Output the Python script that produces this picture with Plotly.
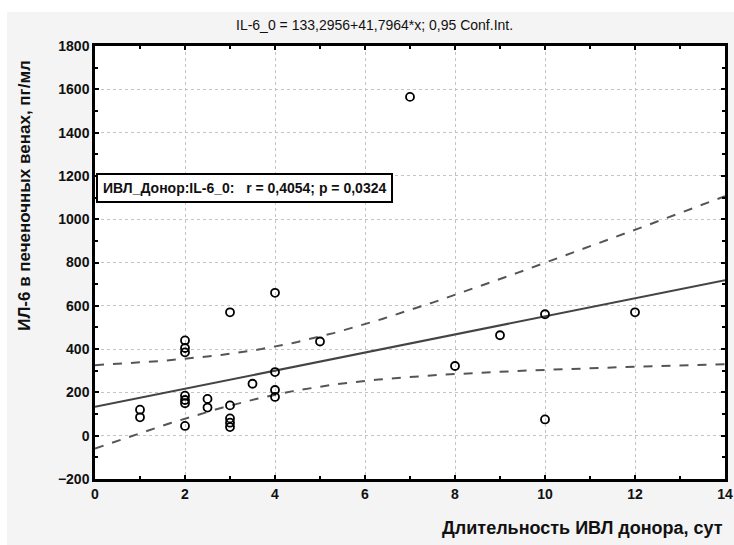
import numpy as np
import plotly.graph_objects as go

# Data
x_days = [1, 1, 2, 2, 2, 2, 2, 2, 2, 2.5, 2.5, 3, 3, 3, 3, 3, 3.5, 4, 4, 4, 4, 5, 7, 8, 9, 10, 10, 12]
il6 = [120, 85, 440, 405, 385, 185, 165, 150, 45, 170, 130, 570, 140, 80, 60, 40, 240, 660, 294, 211, 179, 435, 1565, 322, 464, 561, 75, 570]

intercept = 133.2956
slope = 41.7964
r_text = "ИВЛ_Донор:IL-6_0:   r = 0,4054; p = 0,0324"
title_text = "IL-6_0 = 133,2956+41,7964*x; 0,95 Conf.Int."
x_title = "Длительность ИВЛ донора, сут"
y_title = "ИЛ-6 в печеночных венах, пг/мл"
x_ticks = [0, 2, 4, 6, 8, 10, 12, 14]
y_ticks = [-200, 0, 200, 400, 600, 800, 1000, 1200, 1400, 1600, 1800]

xa = np.array(x_days, dtype=float)
ya = np.array(il6, dtype=float)
n = len(xa)
xs = np.linspace(0, 14, 141)
yhat = intercept + slope * xs
res = ya - (intercept + slope * xa)
s = np.sqrt(np.sum(res**2) / (n - 2))
sxx = np.sum((xa - xa.mean())**2)
tval = 2.056
half = tval * s * np.sqrt(1.0 / n + (xs - xa.mean())**2 / sxx)

FONT = "Liberation Sans, Arial"
W, H = 734, 545
ML, MR, MT, MB = 95, 9, 46, 66
PW, PH = W - ML - MR, H - MT - MB

fig = go.Figure()
fig.add_trace(go.Scatter(x=xs, y=yhat + half, mode="lines",
                         line=dict(color="#555555", width=2, dash="dash"), hoverinfo="skip"))
fig.add_trace(go.Scatter(x=xs, y=yhat - half, mode="lines",
                         line=dict(color="#555555", width=2, dash="dash"), hoverinfo="skip"))
fig.add_trace(go.Scatter(x=xs, y=yhat, mode="lines",
                         line=dict(color="#444444", width=2), hoverinfo="skip"))
fig.add_trace(go.Scatter(x=x_days, y=il6, mode="markers",
                         marker=dict(symbol="circle-open", size=8, color="black",
                                     line=dict(width=1.8, color="black"))))

axis_common = dict(showline=True, linecolor="black", linewidth=2.5, mirror="ticks",
                   ticks="inside", ticklen=4, tickcolor="black", tickwidth=1.5,
                   showgrid=True, gridcolor="#c4c4c4", griddash="dot", gridwidth=1.2,
                   zeroline=False, automargin=False,
                   tickfont=dict(family=FONT, size=14, color="#111", weight="bold"))

fig.update_xaxes(range=[0, 14], tickvals=x_ticks,
                 minor=dict(dtick=1, ticks="inside", ticklen=3, tickcolor="black", showgrid=False),
                 **axis_common)
fig.update_yaxes(range=[-200, 1800], tickvals=y_ticks,
                 minor=dict(dtick=100, ticks="inside", ticklen=3, tickcolor="black", showgrid=False),
                 **axis_common)

# white strips at the top and left edge of the light-grey page
fig.add_shape(type="rect", xref="paper", yref="paper", layer="below", line_width=0,
              fillcolor="white", x0=-ML / PW, x1=(W - ML) / PW,
              y0=(H - MB - 12) / PH, y1=(H - MB) / PH + 0.01)
fig.add_shape(type="rect", xref="paper", yref="paper", layer="below", line_width=0,
              fillcolor="white", x0=-ML / PW - 0.01, x1=(7 - ML) / PW,
              y0=-MB / PH - 0.01, y1=(H - MB) / PH + 0.01)

fig.add_annotation(xref="paper", yref="paper", x=0.444, y=1.0, yshift=21,
                   xanchor="center", yanchor="middle", showarrow=False,
                   text=title_text, font=dict(family=FONT, size=14, color="#111"))
fig.add_annotation(xref="paper", yref="paper", x=1.0, y=0.0, yshift=-61,
                   xanchor="right", yanchor="bottom", showarrow=False,
                   text=x_title, font=dict(family=FONT, size=18, color="#111", weight="bold"))
fig.add_annotation(xref="paper", yref="paper", x=0.0, y=0.654, xshift=-70,
                   xanchor="center", yanchor="middle", showarrow=False, textangle=-90,
                   text=y_title, font=dict(family=FONT, size=17, color="#111", weight="bold"))
fig.add_annotation(x=0.03, y=1145, xref="x", yref="y", xanchor="left", yanchor="middle",
                   showarrow=False, text=r_text, bgcolor="white", bordercolor="black",
                   borderwidth=2, borderpad=5,
                   font=dict(family=FONT, size=14, color="#111", weight="bold"))

fig.update_layout(width=W, height=H, showlegend=False,
                  margin=dict(l=ML, r=MR, t=MT, b=MB),
                  plot_bgcolor="white", paper_bgcolor="#f4f4f4")
fig.write_html("out.html", config={"displayModeBar": False},
               post_script="document.body.style.margin='0';document.body.style.overflow='hidden';")
